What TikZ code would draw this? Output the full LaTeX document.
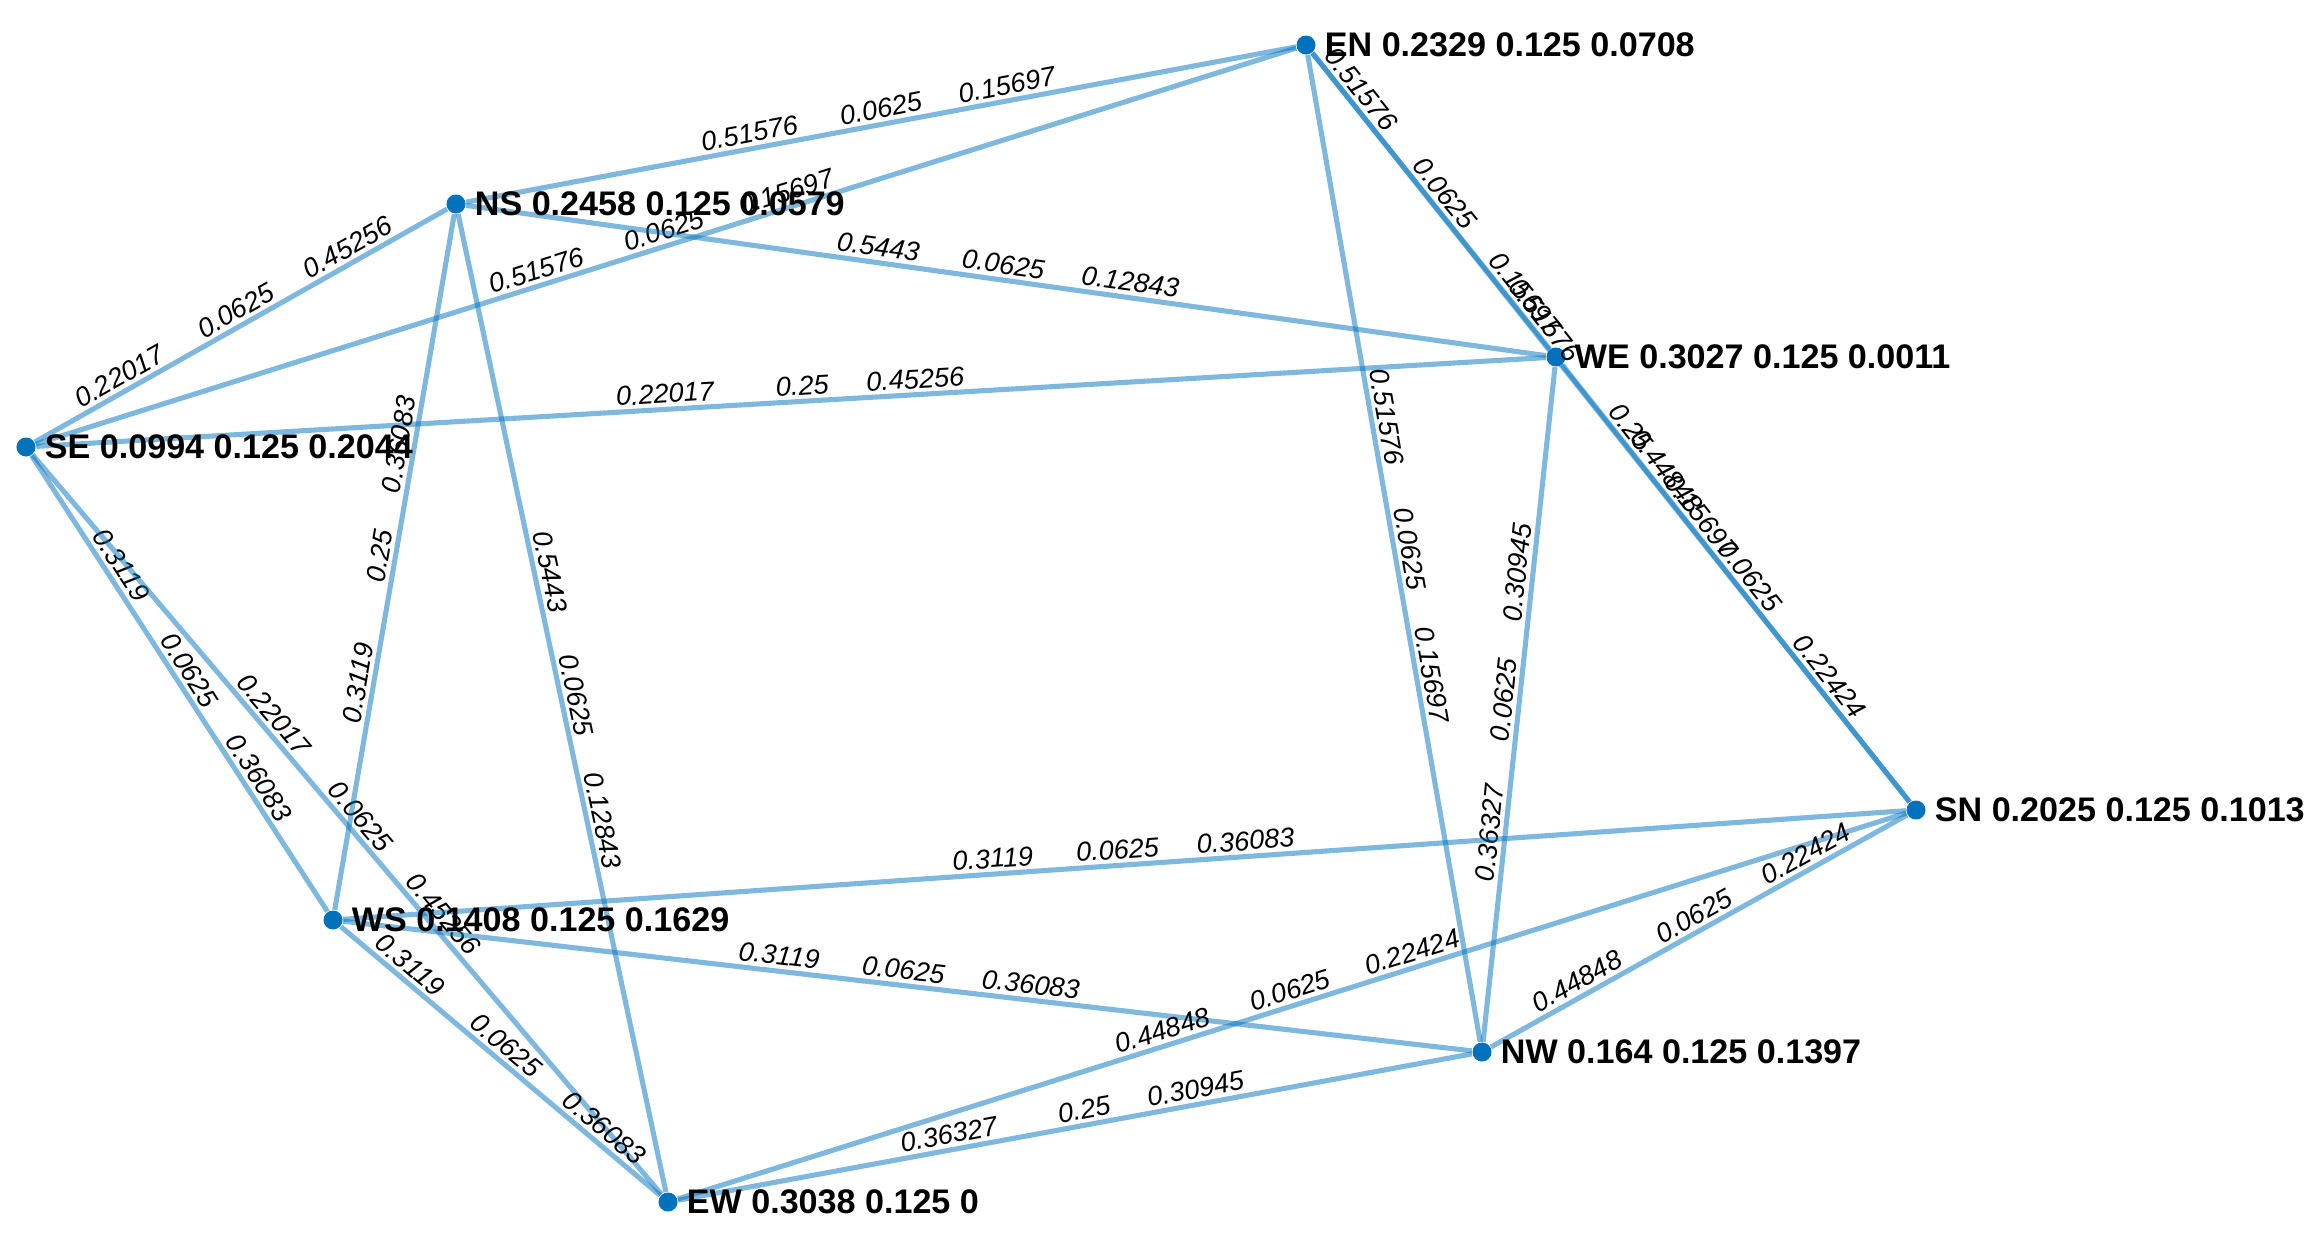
\documentclass[tikz,border=0pt]{standalone}
\usepackage{fontspec}
\setmainfont{Liberation Sans}
\usetikzlibrary{positioning}
\definecolor{mblue}{RGB}{0,114,189}

% three weights of one edge, spaced as in the plot
\newcommand{\wts}[4][1.6em]{#2\hspace{#1}#3\hspace{1.4em}#4}

\begin{document}
\begin{tikzpicture}[
    x=0.01cm, y=-0.01cm,
    vtx/.style={circle, fill=mblue, inner sep=0pt, minimum size=0.19cm},
    vlab/.style={anchor=west, inner sep=0pt, font=\fontsize{9.7}{11}\selectfont\bfseries},
    link/.style={draw=mblue, draw opacity=0.5, line width=1.45pt},
    wlab/.style={midway, sloped, above, inner sep=1pt, font=\fontsize{7.7}{9}\selectfont\itshape},
]
\useasboundingbox (0,0) rectangle (2320,1244);
% vertices
\node[vtx] (EN) at (1306,45) {};
\node[vtx] (NS) at (456,204) {};
\node[vtx] (WE) at (1556,357) {};
\node[vtx] (SE) at (26,447) {};
\node[vtx] (SN) at (1916,810) {};
\node[vtx] (WS) at (333,920) {};
\node[vtx] (NW) at (1482,1052) {};
\node[vtx] (EW) at (668,1202) {};
% edges
\draw[link] (NS) -- (EN) node[wlab] {\wts{0.51576}{0.0625}{0.15697}};
\draw[link] (SE) -- (EN) node[wlab] {\wts{0.51576}{0.0625}{0.15697}};
\draw[link] (SE) -- (NS) node[wlab] {\wts{0.22017}{0.0625}{0.45256}};
\draw[link] (NS) -- (WE) node[wlab] {\wts{0.5443}{0.0625}{0.12843}};
\draw[link] (SE) -- (WE) node[wlab] {\wts[2.3em]{0.22017}{0.25}{0.45256}};
\draw[link] (EN) -- (WE) node[wlab] {\wts{0.51576}{0.0625}{0.15697}};
\draw[link] (EN) -- (SN) node[wlab] {\wts[2.3em]{0.51576}{0.25}{0.15697}};
\draw[link] (WE) -- (SN) node[wlab] {\wts{0.44848}{0.0625}{0.22424}};
\draw[link] (EN) -- (NW) node[wlab] {\wts{0.51576}{0.0625}{0.15697}};
\draw[link] (WE) -- (NW) node[wlab] {\wts{0.36327}{0.0625}{0.30945}};
\draw[link] (SE) -- (WS) node[wlab] {\wts{0.3119}{0.0625}{0.36083}};
\draw[link] (SE) -- (EW) node[wlab] {\wts{0.22017}{0.0625}{0.45256}};
\draw[link] (NS) -- (WS) node[wlab] {\wts[2.3em]{0.3119}{0.25}{0.36083}};
\draw[link] (NS) -- (EW) node[wlab] {\wts{0.5443}{0.0625}{0.12843}};
\draw[link] (WS) -- (SN) node[wlab] {\wts{0.3119}{0.0625}{0.36083}};
\draw[link] (WS) -- (NW) node[wlab] {\wts{0.3119}{0.0625}{0.36083}};
\draw[link] (WS) -- (EW) node[wlab] {\wts{0.3119}{0.0625}{0.36083}};
\draw[link] (EW) -- (SN) node[wlab] {\wts{0.44848}{0.0625}{0.22424}};
\draw[link] (EW) -- (NW) node[wlab] {\wts[2.3em]{0.36327}{0.25}{0.30945}};
\draw[link] (NW) -- (SN) node[wlab] {\wts{0.44848}{0.0625}{0.22424}};
% vertex labels
\node[vlab, right=0.08cm of EN] (ENt) {EN 0.2329 0.125 0.0708};
\node[vlab, right=0.08cm of NS] (NSt) {NS 0.2458 0.125 0.0579};
\node[vlab, right=0.08cm of WE] (WEt) {WE 0.3027 0.125 0.0011};
\node[vlab, right=0.08cm of SE] (SEt) {SE 0.0994 0.125 0.2044};
\node[vlab, right=0.08cm of SN] (SNt) {SN 0.2025 0.125 0.1013};
\node[vlab, right=0.08cm of WS] (WSt) {WS 0.1408 0.125 0.1629};
\node[vlab, right=0.08cm of NW] (NWt) {NW 0.164 0.125 0.1397};
\node[vlab, right=0.08cm of EW] (EWt) {EW 0.3038 0.125 0};
\end{tikzpicture}
\end{document}
